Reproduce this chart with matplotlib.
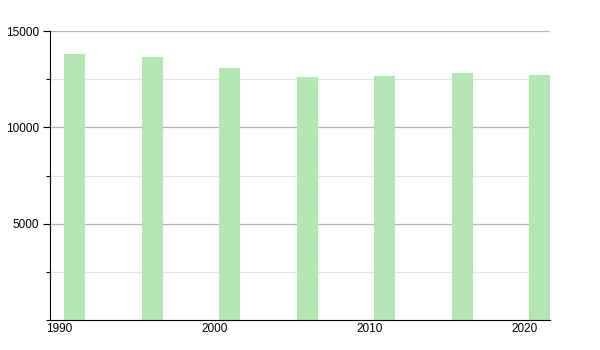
import matplotlib
matplotlib.use('Agg')
import matplotlib.pyplot as plt
from matplotlib.ticker import MultipleLocator

plt.rcParams['font.family'] = ['Liberation Sans', 'DejaVu Sans']

# census years and population
years = [1991, 1996, 2001, 2006, 2011, 2016, 2021]
population = [13800, 13660, 13090, 12610, 12690, 12810, 12710]

BAR_COLOR = '#b3e6b3'

fig = plt.figure(figsize=(6, 3.5), dpi=100)
ax = fig.add_axes([50 / 600, 1 - 320 / 350, 500 / 600, 289 / 350])

ax.bar(years, population, width=1.35, color=BAR_COLOR, zorder=2)

ax.set_xlim(1989.4, 2021.65)
ax.set_ylim(0, 15000)

ax.yaxis.set_major_locator(MultipleLocator(5000))
ax.yaxis.set_minor_locator(MultipleLocator(2500))
ax.set_yticks([5000, 10000, 15000])
ax.set_xticks([1990, 2000, 2010, 2020])

ax.grid(axis='y', which='major', color='#b4b4b4', linewidth=0.9, zorder=0)
ax.grid(axis='y', which='minor', color='#e4e4e4', linewidth=0.9, zorder=0)

for side in ['top', 'right']:
    ax.spines[side].set_visible(False)
ax.spines['left'].set_color('black')
ax.spines['bottom'].set_color('black')

ax.tick_params(axis='y', which='major', length=5, width=0.8, labelsize=8.5, pad=3)
ax.tick_params(axis='y', which='minor', length=3, width=0.8)
ax.tick_params(axis='x', which='both', length=0, labelsize=8.5, pad=2)

fig.savefig('out.png', dpi=100, facecolor='white')
